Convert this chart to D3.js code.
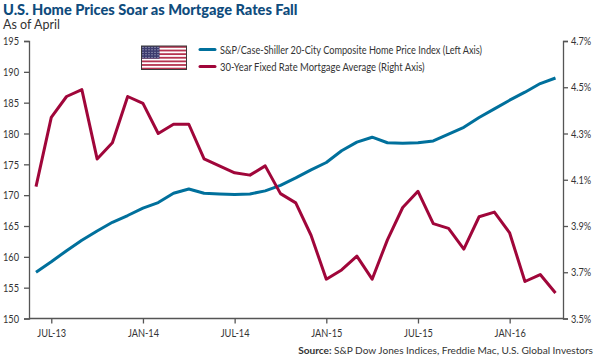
<!DOCTYPE html>
<html>
<head>
<meta charset="utf-8">
<script src="https://cdn.jsdelivr.net/npm/d3@7"></script>
<style>
  html, body { margin: 0; padding: 0; background: #fff; }
  svg { display: block; }
  text { font-family: Lato, "Open Sans", sans-serif; fill: #333; }
  .axis path, .axis line { stroke: #555; stroke-width: 1.3; }
  .axis text { font-size: 11.5px; fill: #333; font-family: Lato, sans-serif; }
</style>
</head>
<body>
<div id="chart"></div>
<script>
'use strict';

const months = ['JUN-13','JUL-13','AUG-13','SEP-13','OCT-13','NOV-13','DEC-13','JAN-14','FEB-14','MAR-14','APR-14','MAY-14',
                'JUN-14','JUL-14','AUG-14','SEP-14','OCT-14','NOV-14','DEC-14','JAN-15','FEB-15','MAR-15','APR-15','MAY-15',
                'JUN-15','JUL-15','AUG-15','SEP-15','OCT-15','NOV-15','DEC-15','JAN-16','FEB-16','MAR-16','APR-16'];

const home_price = [157.5,159.2,161.0,162.7,164.2,165.6,166.7,167.9,168.8,170.3,171.0,170.3,
                    170.2,170.1,170.2,170.7,171.6,172.8,174.1,175.3,177.2,178.6,179.4,178.5,
                    178.4,178.5,178.8,179.9,181.0,182.6,184.0,185.4,186.7,188.1,189.0];

const mortgage_rate = [4.07,4.37,4.46,4.49,4.19,4.26,4.46,4.43,4.30,4.34,4.34,4.19,
                       4.16,4.13,4.12,4.16,4.04,4.00,3.86,3.67,3.71,3.77,3.67,3.84,
                       3.98,4.05,3.91,3.89,3.80,3.94,3.96,3.87,3.66,3.69,3.61];

const left_ticks = [150,155,160,165,170,175,180,185,190,195];
const right_ticks = [3.5,3.7,3.9,4.1,4.3,4.5,4.7];
const month_ticks = ['JUL-13','JAN-14','JUL-14','JAN-15','JUL-15','JAN-16'];

const legend_labels = ['S&P/Case-Shiller 20-City Composite Home Price Index (Left Axis)',
                       '30-Year Fixed Rate Mortgage Average (Right Axis)'];

const blue = '#00709c', red = '#a0063a';
const width = 600, height = 361;
const margin = {top: 41, right: 37, bottom: 42.5, left: 29};

const svg = d3.select('#chart').append('svg')
    .attr('width', width)
    .attr('height', height);

// the original font is narrower than anything installed, so squeeze the glyphs
const squeeze = (sel, k) => sel.each(function() {
    d3.select(this)
        .attr('textLength', this.getComputedTextLength() * k)
        .attr('lengthAdjust', 'spacingAndGlyphs');
});

// Create scales
const x_scale = d3.scalePoint()
    .domain(months)
    .range([36, 555.5]);

const left_scale = d3.scaleLinear()
    .domain([150, 195])
    .range([height - margin.bottom, margin.top]);

const right_scale = d3.scaleLinear()
    .domain([3.5, 4.7])
    .range([height - margin.bottom, margin.top]);

// Draw axes
const left_axis = svg.append('g')
    .attr('class', 'axis')
    .attr('transform', `translate(${margin.left},0)`)
    .call(d3.axisLeft(left_scale).tickValues(left_ticks).tickSize(5).tickSizeOuter(5).tickPadding(5));
left_axis.selectAll('text').call(squeeze, 0.8);

const right_axis = svg.append('g')
    .attr('class', 'axis')
    .attr('transform', `translate(${width - margin.right},0)`)
    .call(d3.axisRight(right_scale).tickValues(right_ticks).tickSize(5).tickSizeOuter(5).tickPadding(3)
        .tickFormat(d => d.toFixed(1) + '%'));
right_axis.selectAll('text').call(squeeze, 0.8);

const x_axis = svg.append('g')
    .attr('class', 'axis')
    .attr('transform', `translate(0,${height - margin.bottom})`)
    .call(d3.axisBottom(x_scale).tickValues(month_ticks).tickSize(5).tickSizeOuter(0));
x_axis.select('.domain').attr('d', `M${margin.left},0H${width - margin.right}`);
x_axis.selectAll('text').attr('dy', '0.95em').call(squeeze, 0.8);

// Draw lines
const line_for = (scale) => d3.line()
    .x((d, i) => x_scale(months[i]))
    .y(d => scale(d));

svg.append('path').datum(home_price)
    .attr('fill', 'none').attr('stroke', blue).attr('stroke-width', 3)
    .attr('stroke-linejoin', 'round')
    .attr('d', line_for(left_scale));

svg.append('path').datum(mortgage_rate)
    .attr('fill', 'none').attr('stroke', red).attr('stroke-width', 3)
    .attr('stroke-linejoin', 'round')
    .attr('d', line_for(right_scale));

// Title
svg.append('text').attr('x', 3).attr('y', 15)
    .style('font-size', '14.6px').style('font-weight', 900).style('fill', '#0f4c7d')
    .text('U.S. Home Prices Soar as Mortgage Rates Fall');

svg.append('text').attr('x', 3).attr('y', 29)
    .style('font-size', '12.5px')
    .text('As of April');

// Legend
[blue, red].forEach((c, i) => {
    const y = 49.5 + i * 17;
    svg.append('line').attr('x1', 200).attr('x2', 215).attr('y1', y).attr('y2', y)
        .attr('stroke', c).attr('stroke-width', 3).attr('stroke-linecap', 'round');
    svg.append('text').attr('x', 220).attr('y', y + 4)
        .style('font-size', '10.5px')
        .text(legend_labels[i])
        .call(squeeze, i === 0 ? 0.875 : 0.9);
});

// Flag
const flag = svg.append('g').attr('transform', 'translate(141.5,46)');
const flag_w = 45, flag_h = 23.5;
flag.append('rect').attr('width', flag_w).attr('height', flag_h).attr('fill', '#fff');
d3.range(7).forEach(i => {
    flag.append('rect')
        .attr('y', i * 2 * flag_h / 13).attr('width', flag_w).attr('height', flag_h / 13)
        .attr('fill', '#b5334f');
});
flag.append('rect').attr('width', 18).attr('height', flag_h * 7 / 13).attr('fill', '#3c3b6e');
d3.range(5).forEach(r => d3.range(6).forEach(c => {
    flag.append('circle')
        .attr('cx', 1.5 + c * 3).attr('cy', 1.3 + r * 2.5).attr('r', 0.55).attr('fill', '#dfe3f0');
}));
flag.append('rect').attr('width', flag_w).attr('height', flag_h)
    .attr('fill', 'none').attr('stroke', '#3a3a3a').attr('stroke-width', 1);

// Source
const source = svg.append('text').attr('x', 593).attr('y', 354)
    .attr('text-anchor', 'end').style('font-size', '10.1px');
source.append('tspan').style('font-weight', 700).text('Source: ');
source.append('tspan').text('S&P Dow Jones Indices, Freddie Mac, U.S. Global Investors');
</script>
</body>
</html>
